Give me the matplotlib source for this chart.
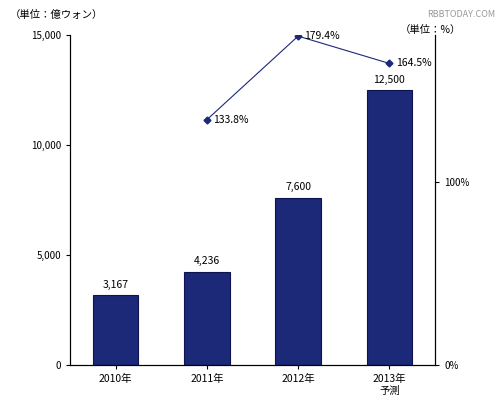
import matplotlib
matplotlib.use("Agg")
import matplotlib.pyplot as plt

plt.rcParams['font.family'] = ['Noto Sans CJK JP', 'DejaVu Sans']

years = ["2010年", "2011年", "2012年", "2013年\n予測"]
sales = [3167, 4236, 7600, 12500]
sales_labels = ["3,167", "4,236", "7,600", "12,500"]
growth_idx = [1, 2, 3]
growth = [133.8, 179.4, 164.5]

fig = plt.figure(figsize=(5, 4.12), dpi=100)
ax = fig.add_axes([0.14, 0.114, 0.73, 0.801])
x = range(len(years))
ax.bar(x, sales, width=0.5, color="#1c2878", edgecolor="#0d1450", linewidth=0.8, zorder=2)
for i, v in enumerate(sales):
    ax.text(i, v + 250, sales_labels[i], ha="center", va="bottom", fontsize=7.5)
ax.set_ylim(0, 15000)
ax.set_xlim(-0.5, 3.5)
ax.set_yticks([0, 5000, 10000, 15000])
ax.set_yticklabels(["0", "5,000", "10,000", "15,000"], fontsize=7)
ax.set_xticks(list(x))
ax.set_xticklabels(years, fontsize=7.5)
ax.tick_params(length=3)
for s in ["top"]:
    ax.spines[s].set_visible(False)

ax2 = ax.twinx()
ax2.plot(growth_idx, growth, color="#1c2878", marker="D", markersize=3.5, linewidth=0.8)
for i, g in zip(growth_idx, growth):
    ax2.text(i + 0.07, g, f"{g}%", va="center", ha="left", fontsize=7.5)
ax2.set_ylim(0, 180)
ax2.set_yticks([0, 100])
ax2.set_yticklabels(["0%", "100%"], fontsize=7)
ax2.spines["top"].set_visible(False)
ax2.tick_params(length=3)

fig.text(0.02, 0.975, "（単位：億ウォン）", fontsize=7.5, va="top")
fig.text(0.80, 0.915, "（単位：%）", fontsize=7.5, va="bottom")
fig.text(0.99, 0.975, "RBBTODAY.COM", fontsize=6.5, va="top", ha="right", color="#999999")

fig.savefig("out.png", dpi=100)
